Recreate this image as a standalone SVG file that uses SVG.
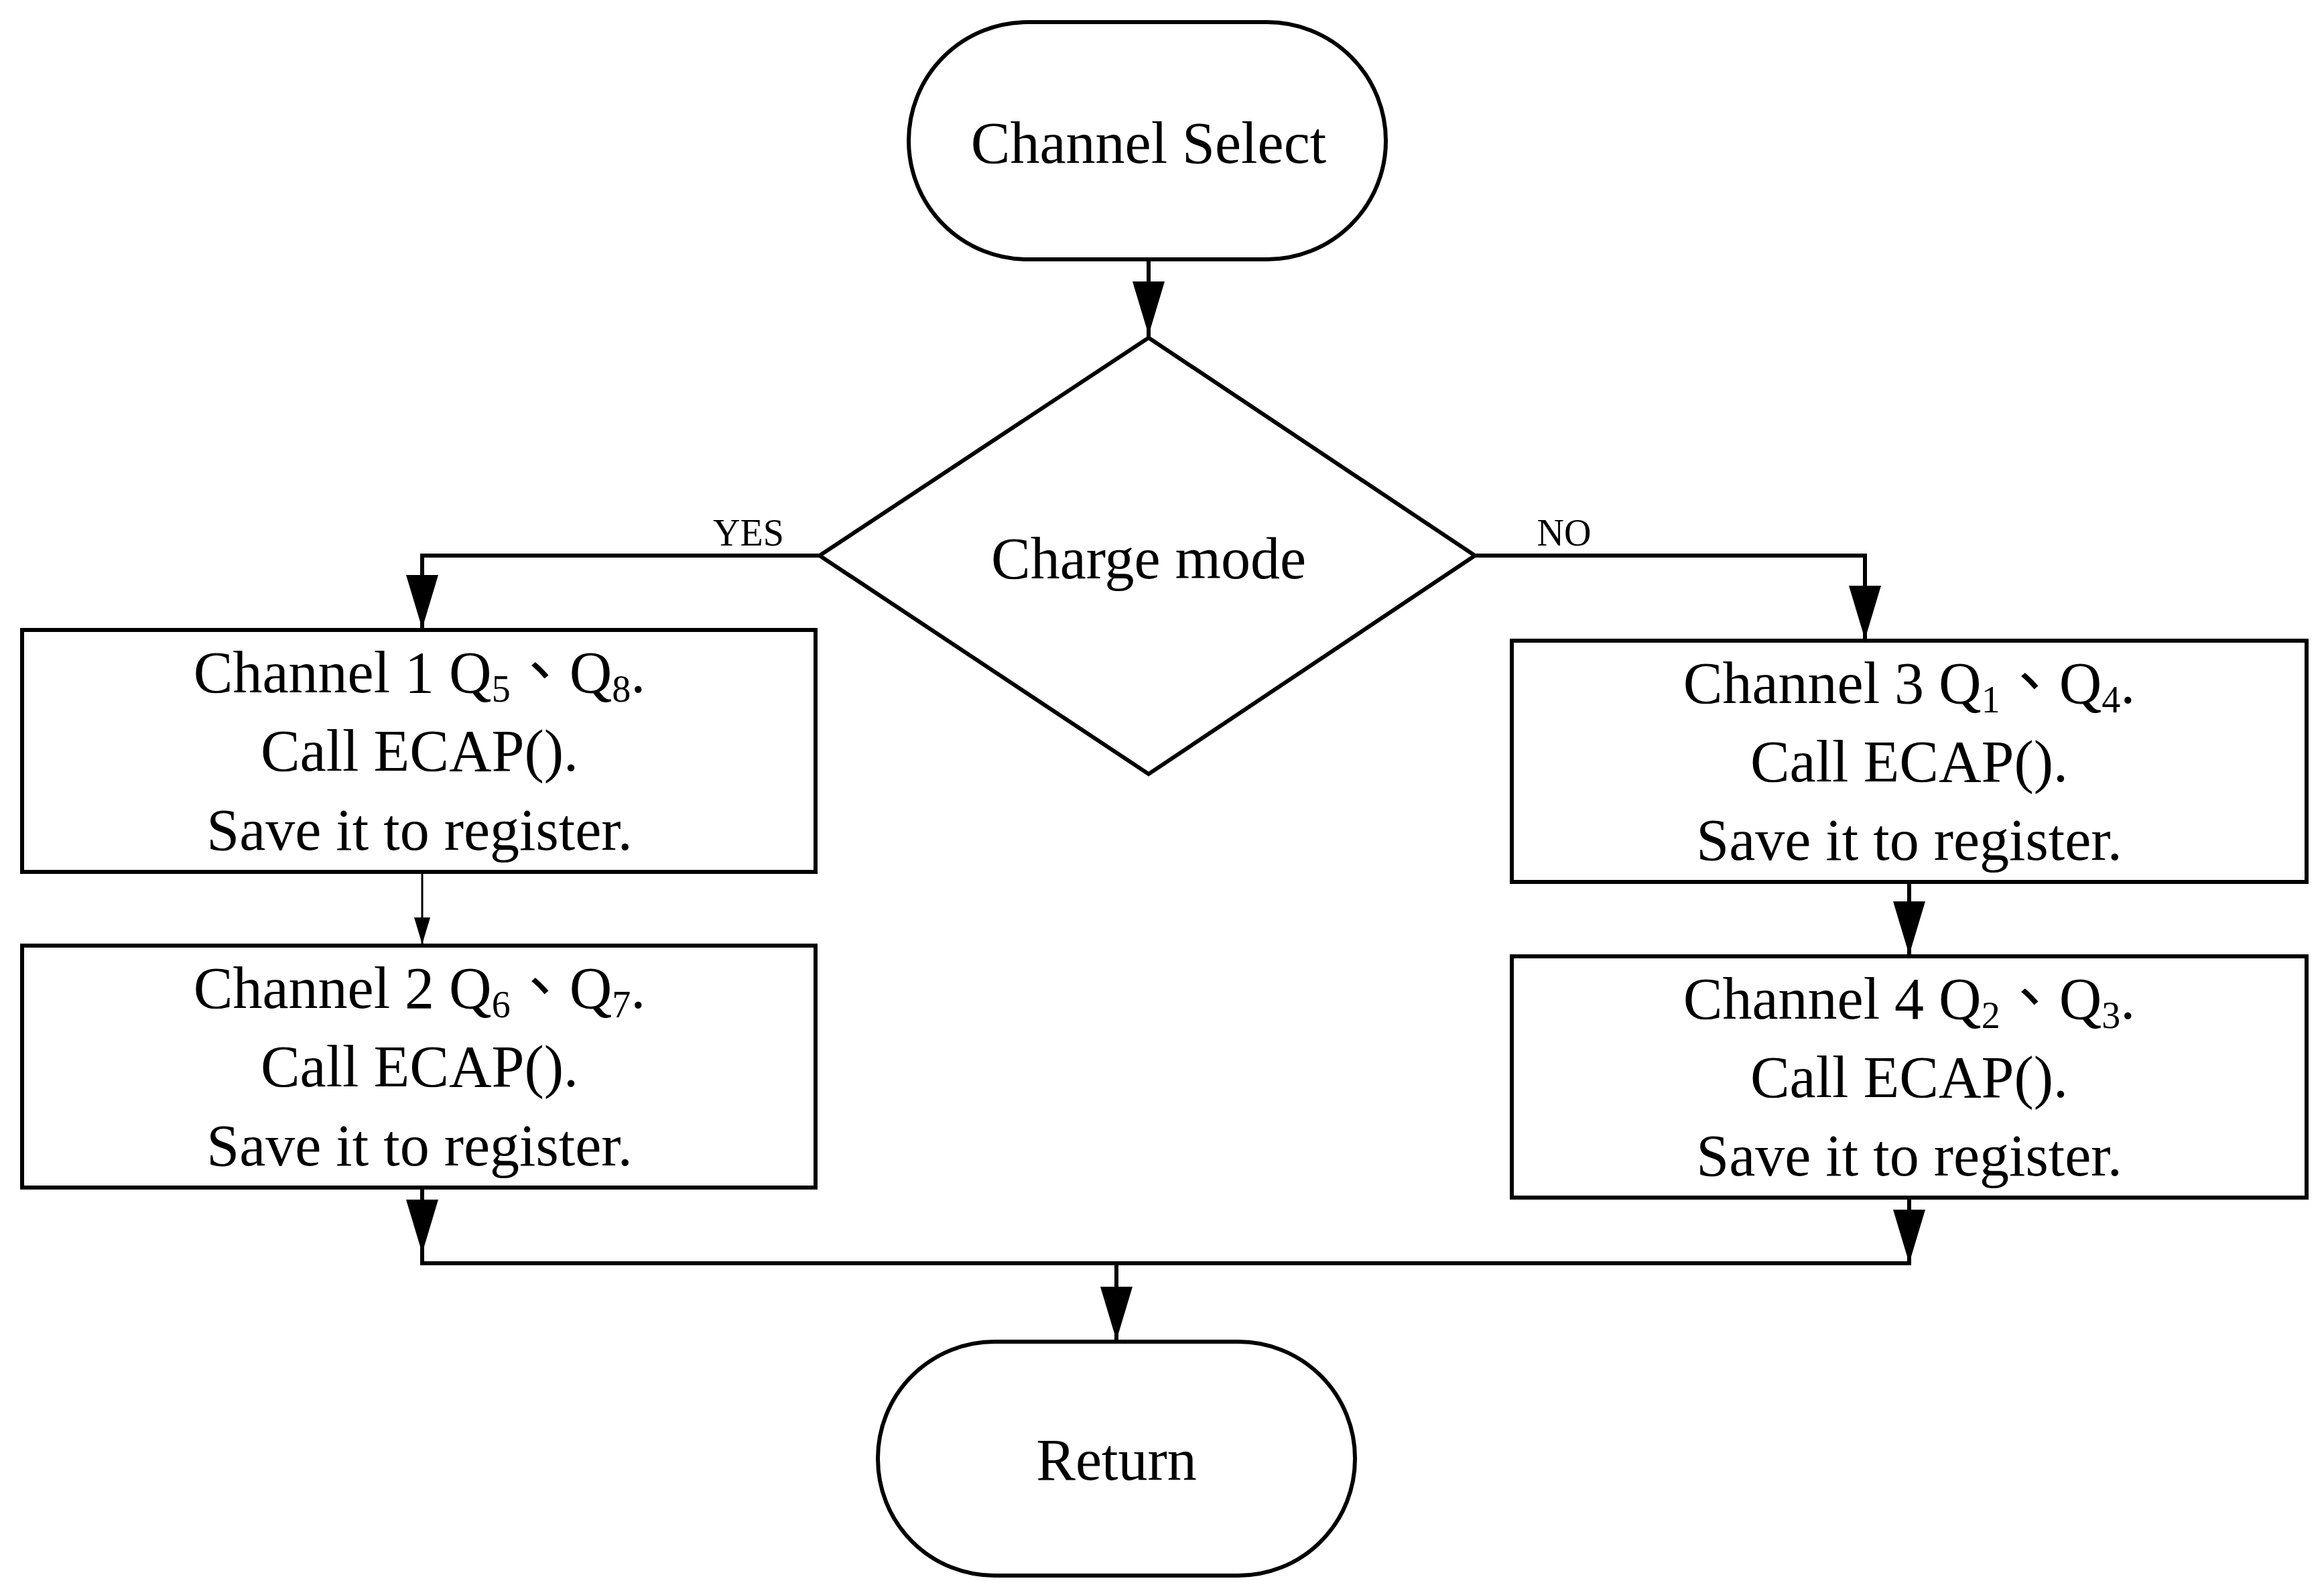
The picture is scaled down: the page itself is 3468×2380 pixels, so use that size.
<svg xmlns="http://www.w3.org/2000/svg" width="3468" height="2380" viewBox="0 0 3468 2380">
<style>
.s{fill:#fff;stroke:#000;stroke-width:6}
.l{fill:none;stroke:#000;stroke-width:6}
.t{font-family:"Liberation Serif","Noto Sans CJK TC",serif;font-size:88px;text-anchor:middle;fill:#000}
.y{font-family:"Liberation Serif",serif;font-size:56px;text-anchor:middle;fill:#000}
.sub{font-size:56px}
</style>
<defs>
<marker id="a" markerUnits="userSpaceOnUse" markerWidth="50" markerHeight="80" refX="24" refY="78" orient="auto-start-reverse" viewBox="0 0 48 80">
<polygon points="0,0 48,0 24,80" fill="#000"/>
</marker>
</defs>
<g id="connectors">
<line class="l" x1="1714" y1="387" x2="1714" y2="502" style="marker-end:none"/>
<polygon points="1690,420 1738,420 1714,500" fill="#000"/>
<polyline class="l" points="1223,829 630,829 630,938"/>
<polygon points="606,858 654,858 630,938" fill="#000"/>
<polyline class="l" points="2201,829 2783,829 2783,954"/>
<polygon points="2759,874 2807,874 2783,954" fill="#000"/>
<line class="l" x1="630" y1="1301" x2="630" y2="1409" style="stroke-width:3"/>
<polygon points="618,1369 642,1369 630,1409" fill="#000"/>
<line class="l" x1="2849" y1="1316" x2="2849" y2="1425"/>
<polygon points="2825,1345 2873,1345 2849,1425" fill="#000"/>
<polyline class="l" points="630,1772 630,1885 2849,1885 2849,1787"/>
<polygon points="606,1790 654,1790 630,1870" fill="#000"/>
<polygon points="2825,1805 2873,1805 2849,1885" fill="#000"/>
<line class="l" x1="1666" y1="1885" x2="1666" y2="2000"/>
<polygon points="1642,1920 1690,1920 1666,2000" fill="#000"/>
<text class="y" x="1117" y="814">YES</text>
<text class="y" x="2334" y="814">NO</text>
</g>
<g id="start">
<rect class="s" x="1356" y="33" width="712" height="354" rx="177"/>
<text class="t" x="1714" y="243">Channel Select</text>
</g>
<g id="decision">
<polygon class="s" points="1714,504 2201,829 1714,1155 1223,829"/>
<text class="t" x="1714" y="863">Charge mode</text>
</g>
<g id="ch1">
<rect class="s" x="33" y="940" width="1184" height="361"/>
<text class="t" x="626" y="1033">Channel 1 Q<tspan class="sub" dy="14">5</tspan><tspan dy="-14">、Q</tspan><tspan class="sub" dy="14">8</tspan><tspan dy="-14">.</tspan></text>
<text class="t" x="626" y="1150">Call ECAP().</text>
<text class="t" x="626" y="1268">Save it to register.</text>
</g>
<g id="ch2">
<rect class="s" x="33" y="1411" width="1184" height="361"/>
<text class="t" x="626" y="1504">Channel 2 Q<tspan class="sub" dy="14">6</tspan><tspan dy="-14">、Q</tspan><tspan class="sub" dy="14">7</tspan><tspan dy="-14">.</tspan></text>
<text class="t" x="626" y="1621">Call ECAP().</text>
<text class="t" x="626" y="1739">Save it to register.</text>
</g>
<g id="ch3">
<rect class="s" x="2256" y="956" width="1186" height="360"/>
<text class="t" x="2849" y="1049">Channel 3 Q<tspan class="sub" dy="14">1</tspan><tspan dy="-14">、Q</tspan><tspan class="sub" dy="14">4</tspan><tspan dy="-14">.</tspan></text>
<text class="t" x="2849" y="1166">Call ECAP().</text>
<text class="t" x="2849" y="1283">Save it to register.</text>
</g>
<g id="ch4">
<rect class="s" x="2256" y="1427" width="1186" height="360"/>
<text class="t" x="2849" y="1520">Channel 4 Q<tspan class="sub" dy="14">2</tspan><tspan dy="-14">、Q</tspan><tspan class="sub" dy="14">3</tspan><tspan dy="-14">.</tspan></text>
<text class="t" x="2849" y="1637">Call ECAP().</text>
<text class="t" x="2849" y="1754">Save it to register.</text>
</g>
<g id="return">
<rect class="s" x="1310" y="2002" width="712" height="349" rx="174"/>
<text class="t" x="1666" y="2208">Return</text>
</g>
</svg>
